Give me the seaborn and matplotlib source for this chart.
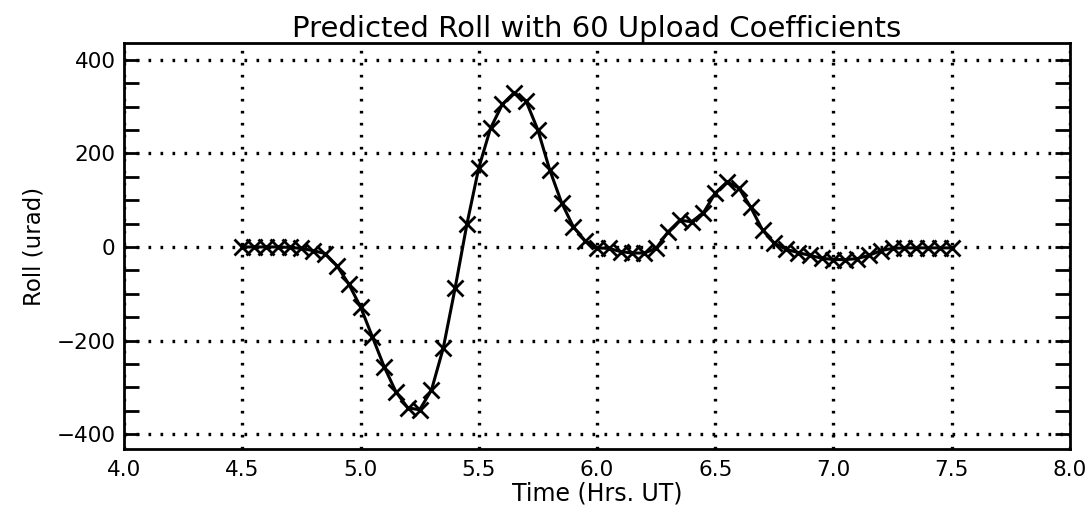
import numpy as np
import pandas as pd
import matplotlib
matplotlib.use("Agg")
import matplotlib.pyplot as plt
import seaborn as sns
from matplotlib.ticker import MultipleLocator

# ---- data ----
time_hrs = [4.50, 4.55, 4.60, 4.65, 4.70, 4.75, 4.80, 4.85, 4.90, 4.95,
            5.00, 5.05, 5.10, 5.15, 5.20, 5.25, 5.30, 5.35, 5.40, 5.45,
            5.50, 5.55, 5.60, 5.65, 5.70, 5.75, 5.80, 5.85, 5.90, 5.95,
            6.00, 6.05, 6.10, 6.15, 6.20, 6.25, 6.30, 6.35, 6.40, 6.45,
            6.50, 6.55, 6.60, 6.65, 6.70, 6.75, 6.80, 6.85, 6.90, 6.95,
            7.00, 7.05, 7.10, 7.15, 7.20, 7.25, 7.30, 7.35, 7.40, 7.45,
            7.50]
roll_urad = [0, 0, 0, 0, -1, -3, -8, -14, -40, -79,
             -128, -192, -256, -310, -344, -348, -306, -216, -88, 49,
             169, 254, 305, 330, 312, 250, 165, 95, 43, 13,
             -2, -3, -10, -13, -13, -3, 32, 57, 54, 73,
             115, 139, 126, 85, 36, 8, -5, -12, -18, -24,
             -27, -27, -25, -18, -8, -3, -2, -2, -2, -2,
             -2]

x_ticks = [4.0, 4.5, 5.0, 5.5, 6.0, 6.5, 7.0, 7.5, 8.0]
y_ticks = [-400, -200, 0, 200, 400]
title = "Predicted Roll with 60 Upload Coefficients"
x_label = "Time (Hrs. UT)"
y_label = "Roll (urad)"

df = pd.DataFrame({"time": time_hrs, "roll": roll_urad})

sns.set_style("white")
plt.rcParams["font.family"] = ["DejaVu Sans"]
plt.rcParams["text.color"] = "black"
plt.rcParams["axes.labelcolor"] = "black"
plt.rcParams["xtick.color"] = "black"
plt.rcParams["ytick.color"] = "black"

fig = plt.figure(figsize=(10.91, 5.12), dpi=100)
ax = fig.add_axes([0.1137, 0.123, 0.867, 0.793])

sns.lineplot(data=df, x="time", y="roll", ax=ax, color="black", lw=2.2,
             marker="x", markersize=11, markeredgewidth=2.0,
             markeredgecolor="black")

ax.set_xlim(4.0, 8.0)
ax.set_ylim(-432, 436)
ax.set_xticks(x_ticks)
ax.set_xticklabels([f"{t:.1f}" for t in x_ticks])
ax.set_yticks(y_ticks)
ax.yaxis.set_minor_locator(MultipleLocator(50))

ax.grid(True, which="major", color="black", lw=2.4,
        linestyle=(0, (0.8, 2.8)))
ax.set_axisbelow(True)

for s in ax.spines.values():
    s.set_color("black")
    s.set_linewidth(2.0)

ax.tick_params(axis="y", which="both", direction="in", left=True, right=True,
               length=11, width=2, labelsize=15.5, pad=6, labelcolor="black")
ax.tick_params(axis="x", which="both", direction="in", bottom=True, top=True,
               length=0, width=2, labelsize=15.5, pad=8, labelcolor="black")

ax.set_title(title, fontsize=21, pad=4, color="black")
ax.set_xlabel(x_label, fontsize=17, labelpad=1, color="black")
ax.set_ylabel(y_label, fontsize=16.5, labelpad=8, color="black")

fig.savefig("out.png", dpi=100, facecolor="white")
